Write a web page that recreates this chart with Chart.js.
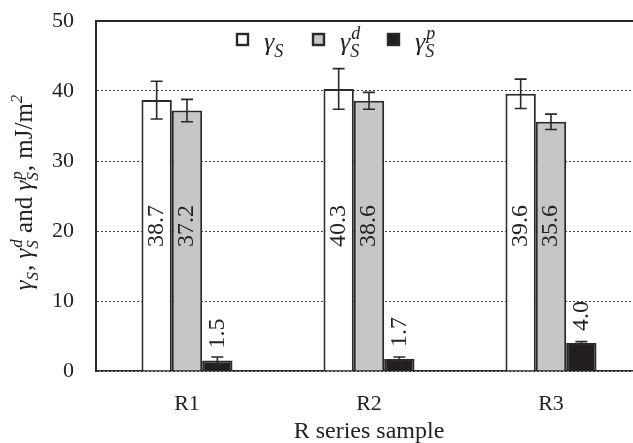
<!DOCTYPE html>
<html>
<head>
<meta charset="utf-8">
<script src="https://cdn.jsdelivr.net/npm/chart.js"></script>
<style>
  html, body { margin: 0; padding: 0; background: #fff; overflow: hidden; }
  #wrap { position: relative; width: 650px; height: 443px; }
</style>
</head>
<body>
<div id="wrap"><canvas id="myChart"></canvas></div>
<script>
// data
const samples = ["R1", "R2", "R3"];
const seriesNames = ["γS", "γS d", "γS p"];
const totalSE = [38.7, 40.3, 39.6];
const dispersiveSE = [37.2, 38.6, 35.6];
const polarSE = [1.5, 1.7, 4.0];
const totalErr = [2.7, 2.9, 2.1];
const dispersiveErr = [1.6, 1.2, 1.1];
const polarErr = [0.5, 0.3, 0.2];
const yTicks = [0, 10, 20, 30, 40, 50];

const SERIF = '"Liberation Serif", "DejaVu Serif", serif';
const INK = "#2a2a2a";

// pieces of text with sub/superscripts: {t, it} or {sub, sup}
function richWidth(ctx, parts, size) {
  let w = 0;
  parts.forEach((p) => {
    if (p.t !== undefined) {
      ctx.font = (p.it ? "italic " : "") + size + "px " + SERIF;
      w += ctx.measureText(p.t).width;
    } else {
      ctx.font = "italic " + Math.round(size * 0.68) + "px " + SERIF;
      const a = p.sub ? ctx.measureText(p.sub).width : 0;
      const b = p.sup ? ctx.measureText(p.sup).width : 0;
      w += Math.max(a, b) + 1;
    }
  });
  return w;
}

function drawRich(ctx, parts, x, y, size) {
  let cx = x;
  ctx.textAlign = "left";
  ctx.textBaseline = "alphabetic";
  parts.forEach((p) => {
    if (p.t !== undefined) {
      ctx.font = (p.it ? "italic " : "") + size + "px " + SERIF;
      ctx.fillText(p.t, cx, y);
      cx += ctx.measureText(p.t).width;
    } else {
      ctx.font = "italic " + Math.round(size * 0.68) + "px " + SERIF;
      let a = 0, b = 0;
      if (p.sub) {
        ctx.fillText(p.sub, cx, y + size * 0.25);
        a = ctx.measureText(p.sub).width;
      }
      if (p.sup) {
        ctx.fillText(p.sup, cx + (p.sub ? 1 : 0), y - size * 0.42);
        b = ctx.measureText(p.sup).width;
      }
      cx += Math.max(a, b) + 1;
    }
  });
}

const legendParts = [
  [{ t: "γ", it: true }, { sub: "S" }],
  [{ t: "γ", it: true }, { sub: "S", sup: "d" }],
  [{ t: "γ", it: true }, { sub: "S", sup: "p" }],
];

const yTitleParts = [
  { t: "γ", it: true }, { sub: "S" }, { t: ", " },
  { t: "γ", it: true }, { sub: "S", sup: "d" }, { t: " and " },
  { t: "γ", it: true }, { sub: "S", sup: "p" }, { t: ", mJ/m" }, { sup: "2" },
];

const extras = {
  id: "extras",
  beforeDatasetsDraw(chart) {
    // solid frame line at the top of the value axis
    const ctx = chart.ctx;
    const y = chart.scales.y.getPixelForValue(50);
    ctx.save();
    ctx.strokeStyle = INK;
    ctx.lineWidth = 2;
    ctx.beginPath();
    ctx.moveTo(chart.chartArea.left, y);
    ctx.lineTo(chart.chartArea.right, y);
    ctx.stroke();
    ctx.restore();
  },
  afterDatasetsDraw(chart) {
    const ctx = chart.ctx;
    const yScale = chart.scales.y;
    ctx.save();
    chart.data.datasets.forEach((ds, di) => {
      const meta = chart.getDatasetMeta(di);
      meta.data.forEach((bar, i) => {
        const v = ds.data[i];
        const e = ds.errors[i];
        const x = bar.x;
        const yTop = yScale.getPixelForValue(v + e);
        const yBot = yScale.getPixelForValue(v - e);
        ctx.strokeStyle = INK;
        ctx.lineWidth = 1.6;
        ctx.beginPath();
        ctx.moveTo(x, yTop);
        ctx.lineTo(x, yBot);
        ctx.moveTo(x - 6, yTop);
        ctx.lineTo(x + 6, yTop);
        ctx.moveTo(x - 6, yBot);
        ctx.lineTo(x + 6, yBot);
        ctx.stroke();

        // value label, rotated
        ctx.fillStyle = "#222";
        ctx.font = "24px " + SERIF;
        ctx.save();
        if (v > 10) {
          ctx.translate(x, yScale.getPixelForValue(20.7));
          ctx.rotate(-Math.PI / 2);
          ctx.textAlign = "center";
          ctx.textBaseline = "middle";
          ctx.fillText(v.toFixed(1), 0, 0);
        } else {
          ctx.translate(x, bar.y - 12);
          ctx.rotate(-Math.PI / 2);
          ctx.textAlign = "left";
          ctx.textBaseline = "middle";
          ctx.fillText(v.toFixed(1), 0, 0);
        }
        ctx.restore();
      });
    });

    // legend
    const lx = [237, 313, 388];
    chart.data.datasets.forEach((ds, di) => {
      ctx.fillStyle = ds.backgroundColor;
      ctx.fillRect(lx[di], 34, 11, 11);
      ctx.strokeStyle = INK;
      ctx.lineWidth = 2.4;
      ctx.strokeRect(lx[di], 34, 11, 11);
      ctx.fillStyle = "#222";
      drawRich(ctx, legendParts[di], lx[di] + 27, 50, 26);
    });

    // y axis title
    ctx.fillStyle = "#222";
    const size = 25;
    const w = richWidth(ctx, yTitleParts, size);
    ctx.translate(32, 192);
    ctx.rotate(-Math.PI / 2);
    drawRich(ctx, yTitleParts, -w / 2, 0, size);
    ctx.restore();
  },
};

const ctx = document.getElementById("myChart").getContext("2d");
const myChart = new Chart(ctx, {
  type: "bar",
  data: {
    labels: samples,
    datasets: [
      { label: seriesNames[0], data: totalSE, errors: totalErr, backgroundColor: "#ffffff" },
      { label: seriesNames[1], data: dispersiveSE, errors: dispersiveErr, backgroundColor: "#c6c6c6" },
      { label: seriesNames[2], data: polarSE, errors: polarErr, backgroundColor: "#231f20" },
    ].map((d) => Object.assign(d, { borderColor: INK, borderWidth: 2 })),
  },
  options: {
    responsive: true,
    maintainAspectRatio: false,
    animation: false,
    devicePixelRatio: 1,
    layout: { padding: { top: 21, right: 8, left: 0, bottom: 0 } },
    datasets: { bar: { categoryPercentage: 0.5, barPercentage: 1 } },
    plugins: { legend: { display: false }, tooltip: { enabled: false } },
    scales: {
      x: {
        grid: { display: false },
        border: { display: true, color: INK, width: 1.6 },
        ticks: { font: { family: SERIF, size: 22 }, color: "#222", padding: 12 },
        title: {
          display: true,
          text: "R series sample",
          font: { family: SERIF, size: 24, lineHeight: 1 },
          color: "#222",
          padding: { top: 0, bottom: -1 },
        },
        afterFit(scale) { scale.height = 72; },
      },
      y: {
        min: 0,
        max: 50,
        afterBuildTicks(scale) { scale.ticks = yTicks.map((v) => ({ value: v })); },
        grid: { color: "#444", lineWidth: 1, drawTicks: false },
        border: { display: true, color: INK, width: 2, dash: [2, 2] },
        ticks: { font: { family: SERIF, size: 22 }, color: "#222", padding: 22 },
        afterFit(scale) {
          scale.width = 96;
          scale.paddingTop = 0;
          scale.paddingBottom = 0;
        },
      },
    },
  },
  plugins: [extras],
});
</script>
</body>
</html>
